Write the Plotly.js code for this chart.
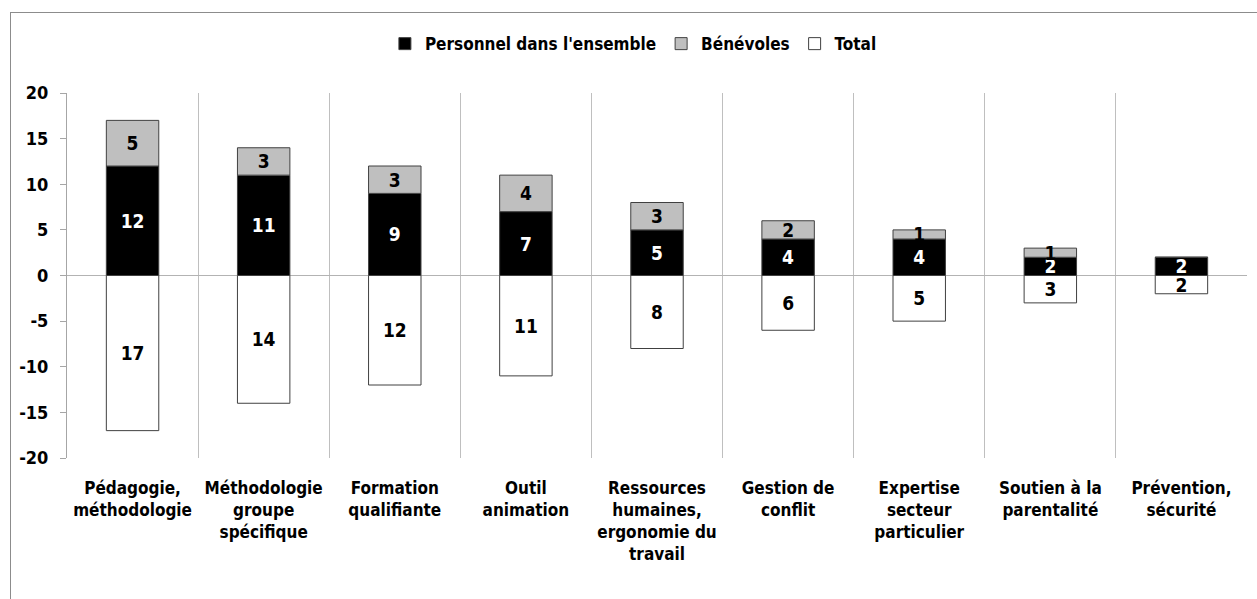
<!DOCTYPE html>
<html>
<head>
<meta charset="utf-8">
<script src="https://cdn.plot.ly/plotly-3.0.1.min.js"></script>
<style>
  html, body { margin: 0; padding: 0; background: #fff; overflow: hidden; }
  #wrap { position: relative; width: 1257px; height: 599px; }
  #chart { position: absolute; left: 0; top: 0; width: 1257px; height: 599px; }
  #frame { position: absolute; left: 10px; top: 12px; width: 1260px; height: 600px;
           border-left: 1px solid #8c8c8c; border-top: 1px solid #8c8c8c; pointer-events: none; }
</style>
</head>
<body>
<div id="wrap">
  <div id="chart"></div>
  <div id="frame"></div>
</div>
<script>
const categories = [
  "Pédagogie,<br>méthodologie",
  "Méthodologie<br>groupe<br>spécifique",
  "Formation<br>qualifiante",
  "Outil<br>animation",
  "Ressources<br>humaines,<br>ergonomie du<br>travail",
  "Gestion de<br>conflit",
  "Expertise<br>secteur<br>particulier",
  "Soutien à la<br>parentalité",
  "Prévention,<br>sécurité"
];
const personnel = [12, 11, 9, 7, 5, 4, 4, 2, 2];
const benevoles = [5, 3, 3, 4, 3, 2, 1, 1, 0];
const total = [17, 14, 12, 11, 8, 6, 5, 3, 2];
const yTicks = [-20, -15, -10, -5, 0, 5, 10, 15, 20];

const FONT = "'DejaVu Sans Condensed', 'Liberation Sans Narrow', sans-serif";
const lbl = v => (v ? String(v) : "");
const lineStyle = { color: "#404040", width: 1 };

const traces = [
  {
    type: "bar", name: "Personnel dans l'ensemble", x: categories, y: personnel,
    text: personnel.map(lbl), textposition: "inside", insidetextanchor: "middle", textangle: 0,
    marker: { color: "#000000", line: lineStyle },
    textfont: { color: "#ffffff", size: 19, family: FONT, weight: "bold" },
    hoverinfo: "skip"
  },
  {
    type: "bar", name: "Bénévoles", x: categories, y: benevoles,
    text: benevoles.map(lbl), textposition: "inside", insidetextanchor: "middle", textangle: 0,
    marker: { color: "#bfbfbf", line: lineStyle },
    textfont: { color: "#000000", size: 19, family: FONT, weight: "bold" },
    hoverinfo: "skip"
  },
  {
    type: "bar", name: "Total", x: categories, y: total.map(v => -v),
    text: total.map(lbl), textposition: "inside", insidetextanchor: "middle", textangle: 0,
    marker: { color: "#ffffff", line: lineStyle },
    textfont: { color: "#000000", size: 19, family: FONT, weight: "bold" },
    hoverinfo: "skip"
  }
];

const layout = {
  width: 1257, height: 599,
  margin: { l: 67, r: 10, t: 93, b: 141 },
  paper_bgcolor: "#ffffff", plot_bgcolor: "#ffffff",
  barmode: "relative", bargap: 0.6,
  font: { family: FONT, color: "#000000", weight: "bold" },
  uniformtext: { mode: "show", minsize: 19 },
  showlegend: true,
  legend: {
    orientation: "h", x: 0.48, xanchor: "center", y: 1.134, yanchor: "middle",
    font: { family: FONT, size: 17, color: "#000000", weight: "bold" },
    traceorder: "normal", itemwidth: 30
  },
  xaxis: {
    type: "category", tickson: "boundaries", showgrid: true, gridcolor: "#bfbfbf", gridwidth: 1,
    ticks: "", showline: false, zeroline: false, tickangle: 0, ticklabelstandoff: 18,
    tickfont: { family: FONT, size: 17, color: "#000000", weight: "bold" },
    automargin: false, fixedrange: true
  },
  yaxis: {
    range: [-20, 20], tickvals: yTicks, ticktext: yTicks.map(String),
    showgrid: false, showline: true, linecolor: "#a6a6a6", linewidth: 1,
    ticks: "outside", ticklen: 6, tickcolor: "#a6a6a6", ticklabelstandoff: 8,
    zeroline: true, zerolinecolor: "#b3b3b3", zerolinewidth: 1.5,
    tickfont: { family: FONT, size: 18, color: "#000000", weight: "bold" },
    automargin: false, fixedrange: true
  }
};

Plotly.newPlot("chart", traces, layout, { displayModeBar: false, staticPlot: true });
</script>
</body>
</html>
